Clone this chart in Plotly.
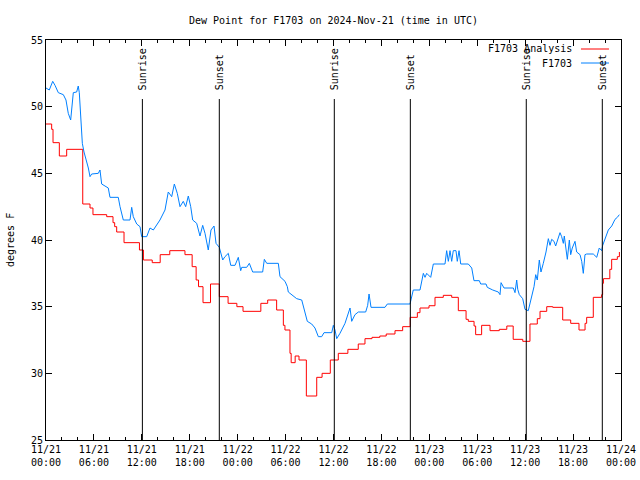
import pandas as pd
import plotly.graph_objects as go

# ---- data (hours since 2024-11-21 00:00 UTC) ----
analysis_hours = [0.0, 0.71, 0.88, 1.67, 2.59, 4.6, 5.51, 5.88, 7.6, 8.39, 8.6, 8.85, 9.77, 11.7,
                  12.2, 13.3, 14.3, 15.5, 17.4, 18.3, 18.8, 19.1, 19.66, 20.6, 21.7, 22.8, 23.9,
                  24.67, 26.9, 27.76, 28.88, 29.72, 29.92, 30.55, 30.7, 31.2, 31.68, 32.6, 33.9,
                  34.57, 35.6, 36.6, 37.8, 39.1, 39.94, 40.82, 41.8, 42.6, 43.7, 44.66, 45.6, 46.5,
                  46.83, 47.96, 48.71, 49.75, 50.8, 51.63, 52.6, 52.88, 53.6, 53.8, 54.55, 55.6,
                  56.76, 57.7, 58.5, 59.7, 60.6, 61.52, 61.86, 62.7, 63.45, 64.7, 65.7, 66.74, 67.5,
                  67.7, 68.53, 69.58, 69.7, 69.8, 70.6, 70.83, 71.54, 71.8]
analysis_values = [48.7, 48.3, 47.3, 46.3, 46.8, 42.7, 42.4, 41.9, 41.75, 41.3, 41.0, 40.6, 39.8, 39.25,
                   38.5, 38.3, 38.9, 39.2, 38.9, 38.0, 37.0, 36.5, 35.3, 36.7, 35.75, 35.25, 35.0,
                   34.65, 35.25, 35.5, 34.75, 33.6, 33.25, 31.5, 30.8, 31.3, 31.0, 28.3, 29.7,
                   30.0, 31.0, 31.5, 31.8, 32.2, 32.6, 32.7, 32.8, 32.95, 33.2, 33.5, 34.2, 34.55,
                   34.9, 35.07, 35.7, 35.85, 35.7, 34.7, 34.05, 33.9, 33.55, 32.9, 33.6, 33.2,
                   33.3, 33.55, 32.55, 32.4, 33.7, 34.1, 34.65, 35.0, 34.95, 34.0, 33.75, 33.25, 33.75,
                   34.2, 35.7, 35.9, 36.75, 37.1, 37.8, 38.55, 38.75, 39.1]

station_hours = [0.0, 0.41, 0.84, 1.13, 1.54, 2.17, 2.5, 2.79, 3.09, 3.22, 3.42, 3.84, 4.04, 4.17,
                 4.35, 4.55, 4.76, 5.10, 5.30, 5.51, 5.72, 6.55, 6.76, 6.97, 7.80, 8.01, 9.05, 9.27,
                 9.68, 10.52, 10.73, 10.93, 11.36, 11.77, 11.98, 12.61, 12.94, 13.02, 13.44, 14.27,
                 14.90, 15.31, 15.74, 16.07, 16.44, 16.78, 17.19, 17.49, 17.82, 18.12, 18.37, 18.87,
                 19.28, 19.62, 19.91, 20.32, 20.66, 21.04, 21.29, 21.70, 22.13, 22.41, 22.83, 23.13,
                 23.67, 24.08, 24.38, 24.51, 25.13, 25.46, 25.88, 27.13, 27.34, 27.64, 29.09, 29.30,
                 29.93, 30.22, 30.34, 30.77, 31.39, 32.02, 32.43, 32.72, 33.27, 33.68, 34.10, 34.52,
                 34.81, 35.78, 35.98, 36.19, 36.40, 36.81, 37.44, 38.07, 38.28, 38.69, 39.11, 40.03,
                 40.28, 40.45, 40.70, 42.45, 42.74, 45.58, 45.99, 46.83, 47.25, 47.46, 47.67, 48.17,
                 48.50, 49.96, 50.17, 50.38, 50.59, 50.80, 51.00, 51.34, 51.50, 51.72, 51.93, 52.88,
                 53.31, 53.59, 54.26, 54.43, 55.10, 55.26, 55.94, 56.64, 56.85, 56.98, 57.35, 58.52,
                 58.73, 58.94, 59.07, 59.27, 59.69, 59.98, 60.39, 60.82, 61.11, 61.32, 61.52, 61.77,
                 61.98, 62.27, 62.61, 62.90, 63.11, 63.32, 63.61, 63.82, 64.15, 64.36, 64.57, 64.78,
                 64.90, 65.11, 65.28, 65.53, 65.70, 65.90, 66.24, 66.45, 66.87, 67.08, 67.28, 67.49,
                 67.70, 68.53, 68.96, 69.28, 69.58, 69.71, 70.00, 70.41, 70.84, 71.25, 71.54, 71.79]
station_values = [51.4, 51.25, 51.9, 51.6, 51.05, 50.9, 50.5, 49.5, 49.0, 50.1, 51.05, 51.1, 51.55, 51.05,
                  48.9, 47.25, 46.6, 45.9, 45.4, 44.75, 44.95, 45.0, 45.25, 44.2, 43.9, 43.2, 43.2, 42.5,
                  41.5, 41.5, 42.45, 41.75, 41.2, 41.0, 40.25, 40.25, 40.75, 40.9, 40.75, 41.5,
                  42.25, 43.6, 43.25, 44.2, 43.5, 42.5, 42.9, 42.5, 43.3, 42.5, 41.5, 41.25,
                  40.3, 41.1, 40.5, 39.25, 40.75, 41.05, 39.75, 39.45, 38.5, 38.75, 39.0, 38.1,
                  38.1, 38.7, 37.7, 37.95, 37.95, 38.25, 37.6, 37.6, 38.55, 38.25, 38.25, 37.25,
                  36.9, 36.5, 36.1, 35.9, 35.6, 35.5, 34.5, 33.9, 33.7, 33.4, 32.75, 32.75,
                  33.05, 33.05, 33.6, 33.25, 32.6, 33.0, 33.75, 34.9, 33.9, 34.4, 34.6, 34.6,
                  35.1, 35.95, 34.95, 34.95, 35.2, 35.2, 36.25, 36.25, 37.5, 37.2, 37.5, 37.2,
                  38.2, 38.2, 39.2, 38.4, 39.2, 38.4, 39.2, 39.2, 38.4, 39.2, 38.2, 38.2,
                  37.9, 36.95, 36.95, 36.7, 36.7, 36.45, 36.25, 36.1, 35.9, 36.8, 36.4, 36.4,
                  36.05, 37.0, 36.3, 35.9, 35.6, 34.8, 34.7, 35.9, 36.5, 37.4, 37.0, 38.5,
                  37.6, 38.25, 39.1, 40.1, 39.6, 40.05, 39.9, 39.55, 40.1, 40.55, 40.25, 39.75,
                  40.3, 39.5, 38.55, 40.0, 38.9, 39.4, 39.9, 39.1, 38.9, 38.4, 37.5, 38.9,
                  38.95, 38.95, 38.7, 39.4, 39.2, 39.6, 40.1, 40.75, 41.05, 41.55, 41.7, 41.9]

sun_labels = ["Sunrise", "Sunset", "Sunrise", "Sunset", "Sunrise", "Sunset"]
sun_hours = [12.07, 21.70, 36.10, 45.62, 60.14, 69.66]

series_names = ["F1703 Analysis", "F1703"]
series_colors = ["#ff0000", "#0080ff"]

# ---- build ----
base = pd.Timestamp("2024-11-21 00:00")
def to_time(hours):
    return base + pd.to_timedelta(pd.Series(hours), unit="h")

FONT = "DejaVu Sans Mono"
fig = go.Figure()
fig.add_trace(go.Scatter(x=to_time(analysis_hours), y=analysis_values, mode="lines",
                         line=dict(color=series_colors[0], width=1, shape="hv"),
                         name=series_names[0], showlegend=False))
fig.add_trace(go.Scatter(x=to_time(station_hours), y=station_values, mode="lines",
                         line=dict(color=series_colors[1], width=1),
                         name=series_names[1], showlegend=False))

sun_times = to_time(sun_hours)
for t, lab in zip(sun_times, sun_labels):
    fig.add_shape(type="line", xref="x", yref="paper", x0=t, x1=t, y0=0, y1=0.8525,
                  line=dict(color="black", width=1))
    fig.add_annotation(x=t, xref="x", y=0.87, yref="paper", text=lab, textangle=-90,
                       showarrow=False, xanchor="center", yanchor="bottom",
                       font=dict(family=FONT, size=10, color="black"))

# gnuplot-style key: text on the left, line sample on the right
key_y = [0.9775, 0.9425]
for name, col, ky in zip(series_names, series_colors, key_y):
    fig.add_annotation(x=0.9183, xref="paper", y=ky, yref="paper", text=name, showarrow=False,
                       xanchor="right", yanchor="middle",
                       font=dict(family=FONT, size=10, color="black"))
    fig.add_shape(type="line", xref="paper", yref="paper", x0=0.9304, x1=0.9791, y0=ky, y1=ky,
                  line=dict(color=col, width=1))

fig.add_annotation(x=-0.0626, xref="paper", y=0.5, yref="paper", text="degrees F", textangle=-90,
                   showarrow=False, xanchor="center", yanchor="middle",
                   font=dict(family=FONT, size=10, color="black"))

fig.update_layout(
    width=640, height=480,
    margin=dict(l=46, r=19, t=40, b=40, autoexpand=False),
    paper_bgcolor="white", plot_bgcolor="white",
    font=dict(family=FONT, size=10, color="black"),
    title=dict(text="Dew Point for F1703 on 2024-Nov-21 (time in UTC)", x=0.5, xref="paper",
               y=1 - 20 / 480, yanchor="middle", font=dict(family=FONT, size=10, color="black")),
    showlegend=False,
)
fig.update_xaxes(
    type="date", range=[base, base + pd.Timedelta(hours=72)],
    tick0=base, dtick=6 * 3600 * 1000, tickformat="%m/%d<br>%H:%M",
    ticks="inside", ticklen=6, tickcolor="black", showgrid=False, zeroline=False,
    showline=True, linecolor="black", linewidth=1, mirror="ticks",
    minor=dict(dtick=2 * 3600 * 1000, ticks="inside", ticklen=3, tickcolor="black", showgrid=False),
    tickfont=dict(family=FONT, size=10, color="black"),
)
fig.update_yaxes(
    range=[25, 55], tick0=25, dtick=5,
    ticks="inside", ticklen=6, tickcolor="black", showgrid=False, zeroline=False,
    showline=True, linecolor="black", linewidth=1, mirror="ticks",
    tickfont=dict(family=FONT, size=10, color="black"),
)

fig.write_html("out.html", config={"displayModeBar": False},
               post_script="document.body.style.margin='0';document.body.style.overflow='hidden';")
